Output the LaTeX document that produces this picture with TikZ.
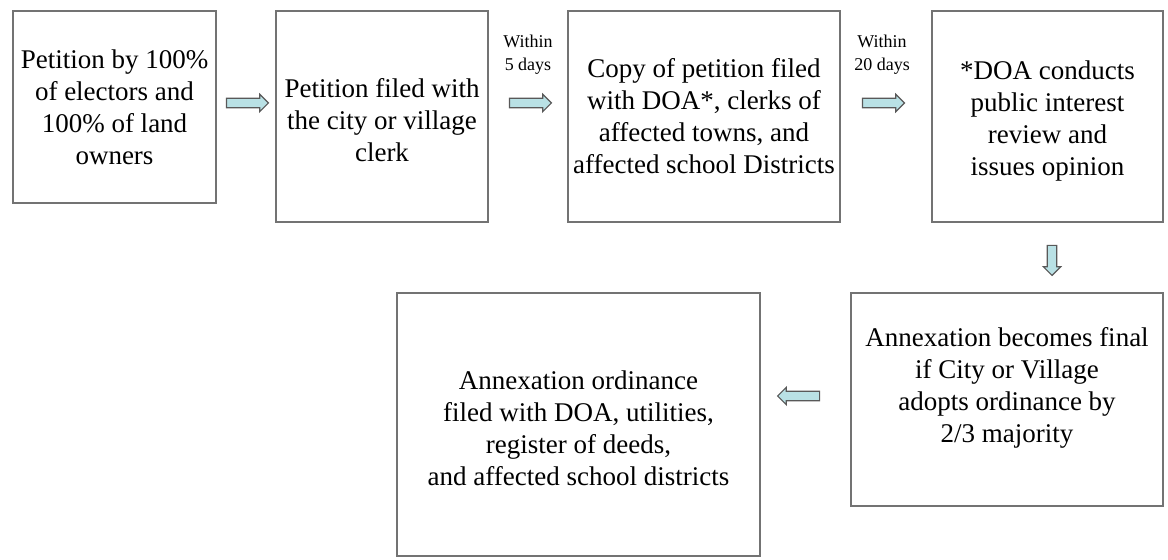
\documentclass[tikz,border=0pt]{standalone}
\usepackage{fontspec}
\setmainfont{Liberation Serif}
\usetikzlibrary{calc,shapes.arrows,positioning}
\definecolor{arrowfill}{RGB}{185,225,229}

\begin{document}
\begin{tikzpicture}[x=0.5pt, y=-0.5pt,
    box/.style={rectangle, draw=black!55, line width=0.9pt, align=center, inner sep=0pt, font=\fontsize{13.5}{16}\selectfont},
    blockarrow/.style={single arrow, draw=black!65, fill=arrowfill, line width=0.6pt, inner sep=2.1pt, minimum height=21pt, single arrow head extend=1.9pt},
    note/.style={align=center, inner sep=0pt, font=\fontsize{9}{11.5}\selectfont}]
    \useasboundingbox (0,0) rectangle (1168,560);
            % top row
            \node[box, minimum width=101.5pt, minimum height=96pt] (petition) at (114.5,107) {Petition by 100\%\\of electors and\\100\% of land\\owners};
            \node[box, minimum width=106pt, minimum height=105.5pt, text height=45.2pt] (clerk) at (382,116.5) {Petition filed with\\the city or village\\clerk};
            \node[box, minimum width=136pt, minimum height=105.5pt] (copy) at (704,116.5) {Copy of petition filed\\with DOA*, clerks of\\affected towns, and\\affected school Districts};
            \node[box, minimum width=115.5pt, minimum height=105.5pt, text height=62pt] (review) at (1047.5,116.5) {*DOA conducts\\public interest\\review and\\issues opinion};
            % bottom row
            \node[box, minimum width=156pt, minimum height=106.5pt, text depth=15pt] (final) at (1007,399.5) {Annexation becomes final\\if City or Village\\adopts ordinance by\\2/3 majority};
            \node[box, minimum width=181.5pt, minimum height=131.5pt, text height=61pt] (ordinance) at (578.5,424.5) {Annexation ordinance\\filed with DOA, utilities,\\register of deeds,\\and affected school districts};
            % block arrows
            \node[blockarrow] (a1) at (245,103) {};
            \node[blockarrow] (a2) at (528,103) {};
            \node[blockarrow] (a3) at (881,103) {};
            \node[blockarrow, rotate=270, minimum height=15pt] (a4) at (1052,258) {};
            \node[blockarrow, rotate=180] (a5) at (801,396) {};
            \node[note] (days5) at (528,55) {Within\\5 days};
            \node[note] (days20) at (882,55) {Within\\20 days};
\end{tikzpicture}
\end{document}
